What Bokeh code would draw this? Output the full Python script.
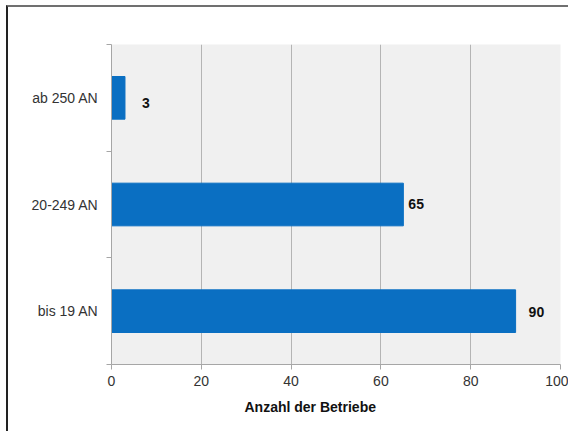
from bokeh.plotting import figure
from bokeh.models import Range1d, LinearAxis, FixedTicker, Title
from bokeh.core.properties import value
from bokeh.embed import file_html
from bokeh.resources import INLINE

# data (bottom to top)
categories = ["bis 19 AN", "20-249 AN", "ab 250 AN"]
counts = [90, 65, 3]
count_labels = ["90", "65", "3"]
x_ticks = [0, 20, 40, 60, 80, 100]

# style: label offsets in pixels
label_dx = [13, 5, 17]
label_dy = [1, -1, 5]

FONT = "Liberation Sans"
BAR = "#0a6fc2"

n = len(categories)
centers = [i + 0.5 for i in range(n)]
bounds = list(range(n + 1))

p = figure(width=562, height=426, output_backend="svg", toolbar_location=None,
           x_range=Range1d(0, 100), y_range=Range1d(0, n),
           y_axis_location=None, x_axis_location=None,
           min_border_left=103, min_border_top=37, min_border_right=10,
           min_border_bottom=69)

p.background_fill_color = "#f0f0f0"
p.border_fill_color = "white"
p.outline_line_color = None
p.styles = {"border-top": "2px solid #707070", "border-left": "2px solid #222222",
            "margin-left": "6px", "margin-top": "5px"}

# x axis
xax = LinearAxis(ticker=FixedTicker(ticks=x_ticks))
xax.axis_line_color = "#a6a6a6"
xax.major_tick_line_color = "#a6a6a6"
xax.major_tick_in = 0
xax.major_tick_out = 5
xax.minor_tick_line_color = None
xax.major_label_text_font = FONT
xax.major_label_text_font_size = "14px"
xax.major_label_text_color = "#333333"
xax.major_label_standoff = 6
p.add_layout(xax, "below")

# y axis: labels at category centres, tick marks at category boundaries
yax = LinearAxis(ticker=FixedTicker(ticks=centers, minor_ticks=bounds),
                 major_label_overrides={c: lab for c, lab in zip(centers, categories)})
yax.axis_line_color = "#a6a6a6"
yax.major_tick_line_color = None
yax.major_tick_in = 0
yax.major_tick_out = 0
yax.minor_tick_line_color = "#a6a6a6"
yax.minor_tick_in = 0
yax.minor_tick_out = 5
yax.major_label_text_font = FONT
yax.major_label_text_font_size = "14px"
yax.major_label_text_color = "#333333"
yax.major_label_standoff = 8
p.add_layout(yax, "left")

p.xgrid.grid_line_color = "#b4b4b4"
p.xgrid.ticker = FixedTicker(ticks=x_ticks)
p.ygrid.grid_line_color = None

p.hbar(y=centers, right=counts, left=0, height=0.4, fill_color=BAR,
       line_color=BAR)

p.text(x=counts, y=centers, text=count_labels, x_offset=label_dx,
       y_offset=label_dy, text_baseline="middle", text_align="left",
       text_font=value(FONT), text_font_style="bold", text_font_size="14px",
       text_color="#111111")

p.add_layout(Title(text="Anzahl der Betriebe", align="left", offset=133,
                   text_font=FONT, text_font_size="14px",
                   text_font_style="bold", text_color="#111111",
                   standoff=17), "below")

open("out.html", "w").write(file_html(p, INLINE))
